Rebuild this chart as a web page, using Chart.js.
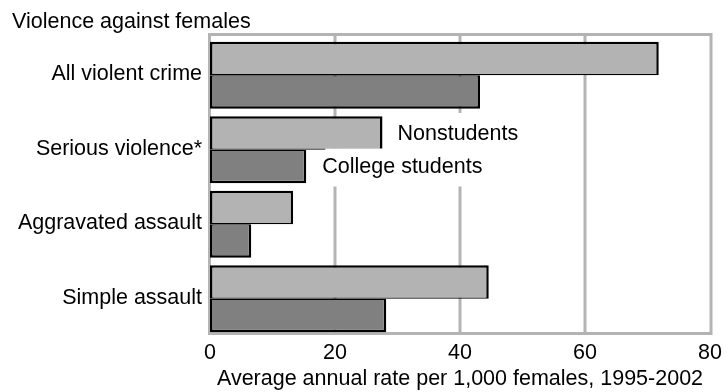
<!DOCTYPE html>
<html>
<head>
<meta charset="utf-8">
<script src="https://cdn.jsdelivr.net/npm/chart.js@4/dist/chart.umd.min.js"></script>
<style>
  html, body { margin: 0; padding: 0; background: #ffffff; }
  #wrap { width: 727px; height: 392px; position: relative; }
</style>
</head>
<body>
<div id="wrap"><canvas id="chart" width="727" height="392"></canvas></div>
<script>
// Victimization rates for females, 1995-2002 (per 1,000 females)
const categories = ['All violent crime', 'Serious violence*', 'Aggravated assault', 'Simple assault'];
const nonstudents = [71.8, 27.6, 13.3, 44.6];
const collegeStudents = [43.2, 15.4, 6.6, 28.2];
const seriesNames = ['Nonstudents', 'College students'];
const xTicks = [0, 20, 40, 60, 80];
const chartTitle = 'Violence against females';
const axisTitle = 'Average annual rate per 1,000 females, 1995-2002';

const FONT = 'Liberation Sans';
const FONT_SIZE = 21.5;
const FRAME_GREY = '#b4b4b4';

// Grey frame and vertical gridlines behind the bars
const framePlugin = {
  id: 'frame',
  beforeDatasetsDraw(chart) {
    const { ctx, chartArea } = chart;
    const xs = chart.scales.x;
    const top = chartArea.top - 3.5;
    const bottom = chartArea.bottom - 2.5;
    const left = xs.getPixelForValue(xTicks[0]) - 0.5;
    const right = xs.getPixelForValue(xTicks[xTicks.length - 1]) + 1;
    ctx.save();
    ctx.strokeStyle = FRAME_GREY;
    ctx.lineWidth = 3;
    xTicks.slice(1, -1).forEach(v => {
      const px = xs.getPixelForValue(v);
      ctx.beginPath();
      ctx.moveTo(px, top);
      ctx.lineTo(px, bottom);
      ctx.stroke();
    });
    ctx.strokeRect(left, top, right - left, bottom - top);
    ctx.restore();
  }
};

// Chart heading and series labels set beside the "Serious violence" bars
const labelPlugin = {
  id: 'labels',
  afterDatasetsDraw(chart) {
    const { ctx } = chart;
    ctx.save();
    ctx.font = FONT_SIZE + 'px "' + FONT + '"';
    ctx.fillStyle = '#000000';
    ctx.textBaseline = 'alphabetic';
    ctx.textAlign = 'left';
    ctx.fillText(chartTitle, 12, 27.5);

    const idx = 1;
    const barA = chart.getDatasetMeta(0).data[idx];
    const barB = chart.getDatasetMeta(1).data[idx];
    const items = [
      { text: seriesNames[0], x: barA.x + 15, y: barA.y, boxL: -3, boxT: -20, boxB: 16 },
      { text: seriesNames[1], x: barB.x + 16, y: barB.y, boxL: 3, boxT: -18, boxB: 20 }
    ];
    ctx.fillStyle = '#ffffff';
    items.forEach(it => {
      const w = ctx.measureText(it.text).width;
      ctx.fillRect(it.x + it.boxL, it.y + it.boxT, w - it.boxL + 4, it.boxB - it.boxT);
    });
    ctx.fillStyle = '#000000';
    ctx.textBaseline = 'middle';
    items.forEach(it => ctx.fillText(it.text, it.x, it.y + 1));
    ctx.restore();
  }
};

new Chart(document.getElementById('chart'), {
  type: 'bar',
  data: {
    labels: categories,
    datasets: [
      {
        label: seriesNames[0],
        data: nonstudents,
        backgroundColor: '#b3b3b3',
        borderColor: '#000000',
        borderWidth: { top: 2.5, right: 2.5, bottom: 1.25, left: 2.5 },
        borderSkipped: false
      },
      {
        label: seriesNames[1],
        data: collegeStudents,
        backgroundColor: '#808080',
        borderColor: '#000000',
        borderWidth: { top: 1.25, right: 2.5, bottom: 2.5, left: 2.5 },
        borderSkipped: false
      }
    ]
  },
  options: {
    indexAxis: 'y',
    responsive: false,
    animation: false,
    devicePixelRatio: 1,
    layout: { padding: { top: 38, right: 17, left: 0, bottom: 0 } },
    datasets: { bar: { barPercentage: 1, categoryPercentage: 0.9, inflateAmount: 0 } },
    plugins: { legend: { display: false }, tooltip: { enabled: false }, title: { display: false } },
    scales: {
      y: {
        type: 'category',
        grid: { display: false, drawTicks: false },
        border: { display: false },
        ticks: { color: '#000000', font: { family: FONT, size: FONT_SIZE }, padding: 8, labelOffset: -1 },
        afterFit(scale) { scale.width = 210; }
      },
      x: {
        type: 'linear',
        min: xTicks[0],
        max: xTicks[xTicks.length - 1],
        afterBuildTicks(scale) { scale.ticks = xTicks.map(v => ({ value: v })); },
        grid: { display: false, drawTicks: false },
        border: { display: false },
        ticks: { color: '#000000', font: { family: FONT, size: FONT_SIZE }, padding: 4.5 },
        title: {
          display: true,
          text: axisTitle,
          color: '#000000',
          font: { family: FONT, size: FONT_SIZE },
          padding: { top: 0, bottom: 0.5 }
        },
        afterFit(scale) { scale.height = 56; }
      }
    }
  },
  plugins: [framePlugin, labelPlugin]
});
</script>
</body>
</html>
